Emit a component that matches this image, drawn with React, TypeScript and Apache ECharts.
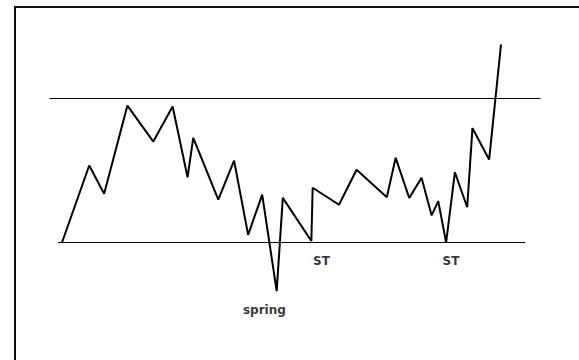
import React, { useEffect, useRef } from "react";
import * as echarts from "echarts";

// Price path (x: time units 0..100, y: price units, support = 0, resistance = 100)
const pathX = [0, 6.2, 9.6, 14.9, 20.8, 25.2, 28.6, 29.9, 35.6, 39.2, 42.4, 45.6, 48.9, 50.3, 56.8, 57.1, 63.1, 67.1, 74.0, 76.0, 79.1, 81.9, 84.2, 85.7, 87.5, 89.5, 92.3, 93.5, 97.3, 100];
const pathY = [0, 53.5, 33.8, 95.1, 70.1, 94.4, 45.3, 72.7, 29.7, 56.9, 5.3, 33.3, -33.8, 31.0, 1, 38.0, 26.2, 50.5, 31.5, 58.8, 30.9, 44.9, 18.8, 28.7, 0, 48.8, 24.5, 79.4, 57.6, 137.5];

// Horizontal levels
const resistanceLevel = 100;
const resistanceX = [-2.85, 109.0];
const supportLevel = 0;
const supportX = [-0.9, 105.5];

// Annotations
const labelTexts = ["spring", "ST", "ST"];
const labelX = [46.1, 59.1, 88.6];
const labelY = [-47.2, -12.8, -12.8];

export default function App() {
  const ref = useRef<HTMLDivElement>(null);
  useEffect(() => {
    document.body.style.margin = "0";
    const chart = echarts.init(ref.current!, null, { renderer: "svg" });
    chart.setOption({
      animation: false,
      backgroundColor: "#ffffff",
      grid: { left: 44.44, right: 25.32, top: 98.5, bottom: 117.5 },
      xAxis: { type: "value", min: -4, max: 112, show: false },
      yAxis: { type: "value", min: 0, max: 100, show: false },
      graphic: [
        { type: "line", shape: { x1: 14, y1: 7, x2: 579, y2: 7 }, style: { stroke: "#111", lineWidth: 2 } },
        { type: "line", shape: { x1: 15, y1: 6, x2: 15, y2: 360 }, style: { stroke: "#111", lineWidth: 2 } },
      ],
      series: [
        {
          type: "line",
          clip: false,
          symbol: "none",
          silent: true,
          lineStyle: { color: "#000", width: 1 },
          data: resistanceX.map((x) => [x, resistanceLevel]),
        },
        {
          type: "line",
          clip: false,
          symbol: "none",
          silent: true,
          lineStyle: { color: "#000", width: 1 },
          data: supportX.map((x) => [x, supportLevel]),
        },
        {
          type: "line",
          clip: false,
          symbol: "none",
          silent: true,
          lineStyle: { color: "#000", width: 2 },
          data: pathX.map((x, i) => [x, pathY[i]]),
        },
        {
          type: "scatter",
          clip: false,
          symbolSize: 0,
          silent: true,
          data: labelX.map((x, i) => ({ value: [x, labelY[i]], name: labelTexts[i] })),
          label: {
            show: true,
            position: "inside",
            formatter: (p: any) => p.name,
            color: "#000",
            fontFamily: "DejaVu Sans",
            fontWeight: "bold",
            fontSize: 12,
          },
        },
      ],
    });
    return () => chart.dispose();
  }, []);
  return <div ref={ref} style={{ width: 579, height: 360 }} />;
}
